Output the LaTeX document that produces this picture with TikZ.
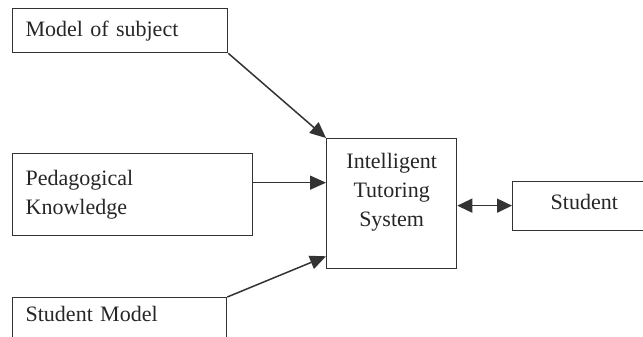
\documentclass[tikz,border=0pt]{standalone}
\usepackage{fontspec}
\setmainfont{Liberation Serif}
\usetikzlibrary{arrows.meta}
\begin{document}
\begin{tikzpicture}[x=1pt,y=-1pt,
  box/.style={draw=black!80, line width=1.3pt, rectangle, inner sep=0pt,
    font=\fontsize{22}{29}\selectfont, text=black!85},
  arr/.style={draw=black!80, line width=1.5pt, -{Triangle[length=16pt,width=14pt]}},
  darr/.style={draw=black!80, line width=1.5pt, {Triangle[length=15pt,width=14pt]}-{Triangle[length=15pt,width=14pt]}}]
\useasboundingbox (0,0) rectangle (643,337);
\clip (0,0) rectangle (643,337);
% boxes
\node[box, anchor=north west, minimum width=215, minimum height=44,
  text width=189, inner xsep=13, align=left] (subj) at (12,8) {Model of subject};
\node[box, anchor=north west, minimum width=240, minimum height=82,
  text width=214, inner xsep=13, align=left] (ped) at (12,153) {Pedagogical\\Knowledge};
\node[box, anchor=north west, minimum width=214, text width=188, inner xsep=13,
  text height=24, text depth=40, align=left] (smod) at (12,297) {Student Model};
\node[box, anchor=north west, minimum width=130, text width=130, align=center,
  text height=30, text depth=100] (its) at (326,138) {Intelligent\\Tutoring\\System};
\node[box, anchor=north west, text width=120, inner xsep=38, align=left,
  text height=28, text depth=21] (stud) at (512,181) {Student};
% connectors
\draw[arr] (subj.south east) -- (its.north west);
\draw[arr] ([yshift=12pt]ped.east) -- ([yshift=12pt]ped.east -| its.west);
\draw[arr] (smod.north east) -- ([yshift=13pt]its.south west);
\draw[darr] ([yshift=-2pt]its.east) -- ([yshift=-2pt]its.east -| stud.west);
\end{tikzpicture}
\end{document}
